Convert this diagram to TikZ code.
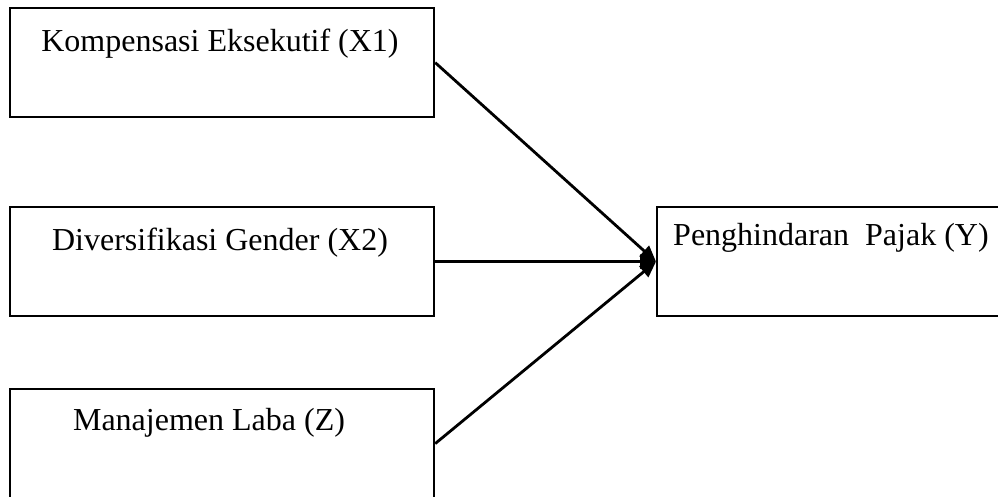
\documentclass[tikz,border=0pt]{standalone}
\usepackage{fontspec}
\setmainfont{Liberation Serif}
\usetikzlibrary{arrows.meta}
\begin{document}
\begin{tikzpicture}[x=1pt,y=-1pt,
  box/.style={draw, line width=2.2pt, minimum width=424pt, minimum height=109pt, inner sep=0pt, anchor=north west},
  lbl/.style={font=\fontsize{32}{38}\selectfont, anchor=base, inner sep=0pt},
  arr/.style={line width=2.8pt, -{Triangle[length=16pt,width=14pt]}}]
\useasboundingbox (0,0) rectangle (998,497);
\clip (0,0) rectangle (998,497);
\node[box] (b1) at (9,7) {};
\node[box] (b2) at (9,206) {};
\node[box] (b3) at (9,388) {};
\node[box, minimum width=360pt] (y) at (656,206) {};
\node[lbl] (t1) at (220,52) {Kompensasi Eksekutif (X1)};
\node[lbl] (t2) at (220,250) {Diversifikasi Gender (X2)};
\node[lbl] (t3) at (209,430) {Manajemen Laba (Z)};
\node[lbl, anchor=base west] (ty) at (673,245) {Penghindaran\ \ Pajak (Y)};
\draw[arr] (b1.east) -- (y.west);
\draw[arr] (b2.east) -- (y.west);
\draw[arr] (b3.east) -- (y.west);
\end{tikzpicture}
\end{document}
